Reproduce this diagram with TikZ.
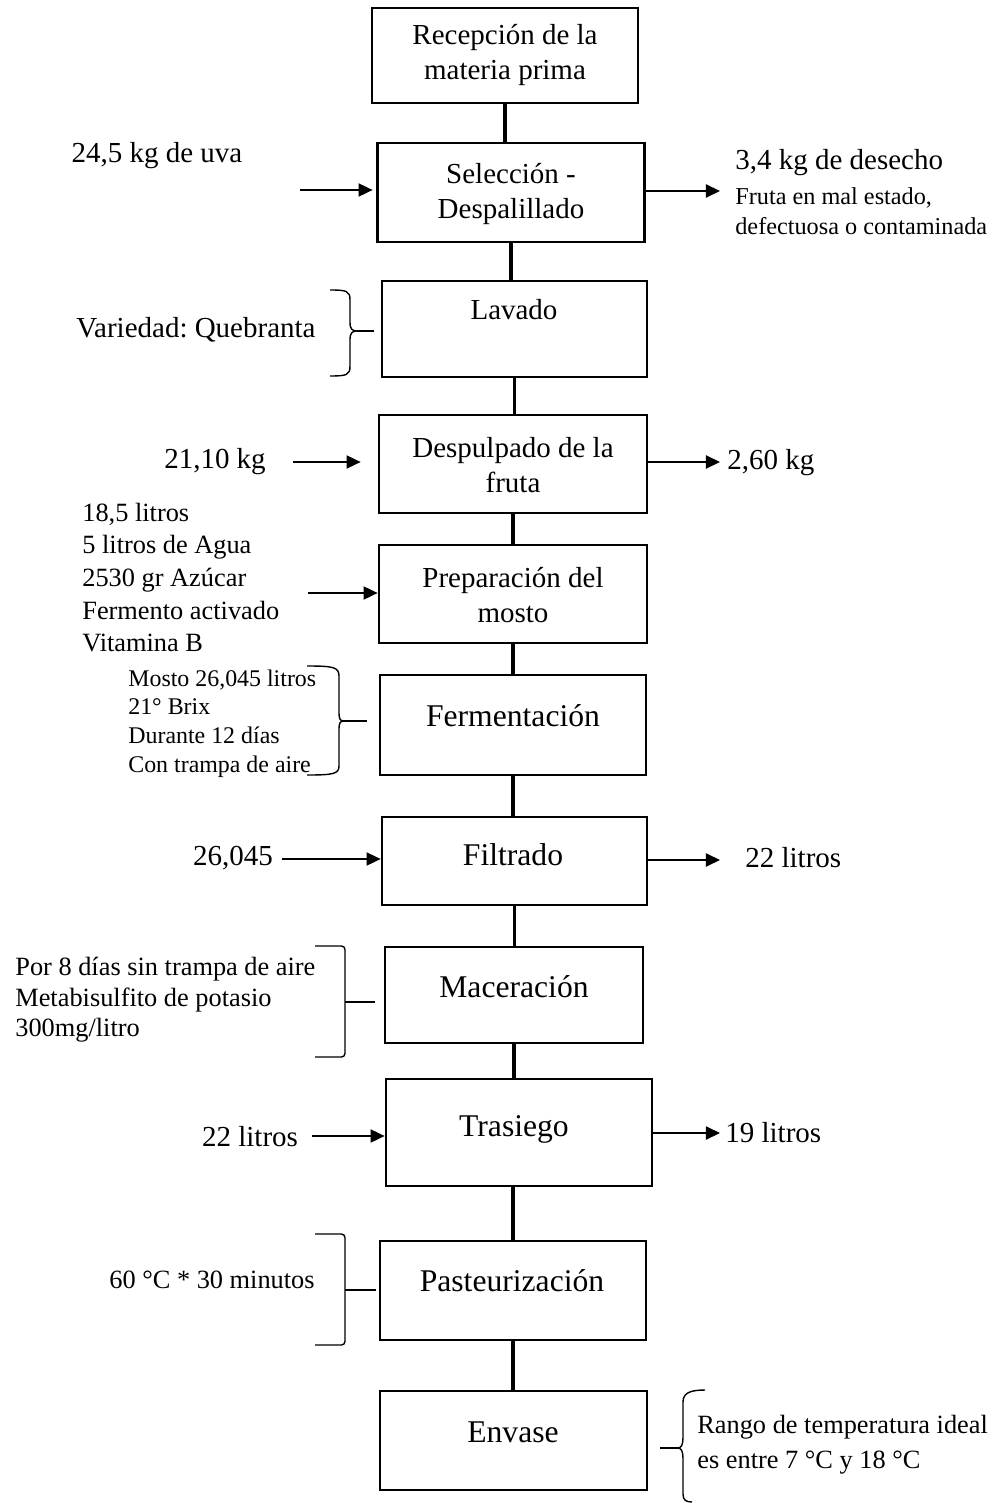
\documentclass[tikz,border=0pt]{standalone}
\usepackage{fontspec}
\setmainfont{Liberation Serif}
\frenchspacing
\usetikzlibrary{arrows.meta,positioning}

\begin{document}
\begin{tikzpicture}[
    x=0.02cm, y=-0.02cm,
    box/.style={draw, line width=1.6pt, inner sep=0pt},
    boxtext/.style={align=center, inner sep=0pt, font=\fontsize{16.5}{20}\selectfont},
    bigtext/.style={inner sep=0pt, font=\fontsize{18}{21}\selectfont},
    bignote/.style={inner sep=0pt, font=\fontsize{16.5}{20}\selectfont},
    note/.style={align=left, inner sep=0pt, font=\fontsize{15}{18.6}\selectfont},
    link/.style={line width=2.2pt},
    feed/.style={-{Triangle[length=8pt, width=7.5pt]}, line width=0.8pt},
    brace/.style={line width=0.8pt}
]
\useasboundingbox (0,0) rectangle (1003,1503);

% process steps
\node[box, minimum width=5.32cm, minimum height=1.90cm] (rec) at (505,55.5) {};
\node[box, minimum width=5.34cm, minimum height=1.98cm] (sel) at (511,192.5) {};
\node[box, minimum width=5.30cm, minimum height=1.92cm] (lav) at (514.5,329) {};
\node[box, minimum width=5.36cm, minimum height=1.96cm] (desp) at (513,464) {};
\node[box, minimum width=5.36cm, minimum height=1.96cm] (prep) at (513,594) {};
\node[box, minimum width=5.32cm, minimum height=2.00cm] (fer) at (513,725) {};
\node[box, minimum width=5.30cm, minimum height=1.76cm] (fil) at (514.5,861) {};
\node[box, minimum width=5.16cm, minimum height=1.92cm] (mac) at (514,995) {};
\node[box, minimum width=5.32cm, minimum height=2.14cm] (tra) at (519,1132.5) {};
\node[box, minimum width=5.32cm, minimum height=1.98cm] (pas) at (513,1290.5) {};
\node[box, minimum width=5.34cm, minimum height=1.98cm] (env) at (513.5,1440.5) {};

\node[boxtext] (recT) at (505,55) {Recepción de la\\materia prima};
\node[boxtext] (selT) at (511,194) {Selección -\\Despalillado};
\node[boxtext] (lavT) at (514,310) {Lavado};
\node[boxtext] (despT) at (513,465) {Despulpado de la\\fruta};
\node[boxtext] (prepT) at (513,595) {Preparación del\\mosto};
\node[bigtext] (ferT) at (513,716) {Fermentación};
\node[bigtext] (filT) at (513,855) {Filtrado};
\node[bigtext] (macT) at (514,987) {Maceración};
\node[bigtext] (traT) at (514,1129) {Trasiego};
\node[bigtext] (pasT) at (512,1281) {Pasteurización};
\node[bigtext] (envT) at (513,1432) {Envase};

% main line
\draw[link] (rec.south) -- (rec.south |- sel.north);
\draw[link] (sel.south) -- (sel.south |- lav.north);
\draw[link] (lav.south) -- (lav.south |- desp.north);
\draw[link] (desp.south) -- (desp.south |- prep.north);
\draw[link] (prep.south) -- (prep.south |- fer.north);
\draw[link] (fer.south) -- (fer.south |- fil.north);
\draw[link] (fil.south) -- (fil.south |- mac.north);
\draw[link] (mac.south) -- (mac.south |- tra.north);
\draw[link] (pas.north |- tra.south) -- (pas.north);
\draw[link] (pas.south) -- (pas.south |- env.north);

% inputs and outputs
\node[bignote] (uva) at (157,156) {24,5 kg de uva};
\node[bignote, anchor=west] (desecho) at (735,163) {3,4 kg de desecho};
\node[note, anchor=west, font=\fontsize{13.8}{17}\selectfont] (desechoNota) at (735,211)
    {Fruta en mal estado,\\defectuosa o contaminada};
\coordinate (selIn) at (300,190);
\coordinate (selOut) at (720,191);
\draw[feed, shorten >=2pt] (selIn) -- (selIn -| sel.west);
\draw[feed] (selOut -| sel.east) -- (selOut);

\node[bignote] (kgIn) at (215,462) {21,10 kg};
\node[bignote, anchor=west] (kgOut) at (727,463) {2,60 kg};
\coordinate (despIn) at (293,462);
\coordinate (despOut) at (720,462);
\draw[feed, shorten >=0.34cm] (despIn) -- (despIn -| desp.west);
\draw[feed] (despOut -| desp.east) -- (despOut);

\node[note, anchor=west] (insumos) at (82,577.5)
    {18,5 litros\\5 litros de Agua\\2530 gr Azúcar\\Fermento activado\\Vitamina B};
\coordinate (prepIn) at (308,593);
\draw[feed] (prepIn) -- (prepIn -| prep.west);

\node[bignote] (filIn) at (233,858) {26,045};
\node[bignote, anchor=west] (filOut) at (745,858) {22 litros};
\coordinate (filA) at (282,859);
\coordinate (filB) at (720,860);
\draw[feed] (filA) -- (filA -| fil.west);
\draw[feed] (filB -| fil.east) -- (filB);

\node[bignote] (traIn) at (250,1137) {22 litros};
\node[bignote, anchor=west] (traOut) at (725,1133) {19 litros};
\coordinate (traA) at (312,1136);
\coordinate (traB) at (720,1133);
\draw[feed] (traA) -- (traA -| tra.west);
\draw[feed] (traB -| tra.east) -- (traB);

% remarks with braces
\node[bignote] (variedad) at (196,330) {Variedad: Quebranta};
\coordinate (lavTip) at (357,331);
\draw[brace] (330,290) .. controls (347,290) and (350,291) .. (350,300) -- (350,322)
    .. controls (350,329) and (352,331) .. (lavTip)
    .. controls (352,331) and (350,333) .. (350,340) -- (350,366)
    .. controls (350,375) and (347,376) .. (330,376);
\draw[brace, shorten >=0.14cm] (lavTip) -- (lavTip -| lav.west);

\node[note, anchor=west, font=\fontsize{13.6}{16.4}\selectfont] (mosto) at (128,723.5)
    {Mosto 26,045 litros\\21° Brix\\Durante 12 días\\Con trampa de aire};
\coordinate (ferTip) at (344,721);
\draw[brace] (307,666) .. controls (333,666) and (339,667) .. (339,676) -- (339,712)
    .. controls (339,719) and (340,721) .. (ferTip)
    .. controls (340,721) and (339,723) .. (339,730) -- (339,766)
    .. controls (339,774) and (333,775) .. (307,775);
\draw[brace, shorten >=0.24cm] (ferTip) -- (ferTip -| fer.west);

\node[note, anchor=west, font=\fontsize{15}{17.3}\selectfont] (reposo) at (15,1000)
    {Por 8 días sin trampa de aire\\Metabisulfito de potasio\\300mg/litro};
\coordinate (macTip) at (345,1002);
\draw[brace, rounded corners=2pt] (315,946) -- (345,946) -- (345,1057) -- (315,1057);
\draw[brace, shorten >=0.18cm] (macTip) -- (macTip -| mac.west);

\node[note] (temp) at (212,1280) {60 °C * 30 minutos};
\coordinate (pasTip) at (345,1290);
\draw[brace, rounded corners=2pt] (315,1234) -- (345,1234) -- (345,1345) -- (315,1345);
\draw[brace, shorten >=0.06cm] (pasTip) -- (pasTip -| pas.west);

\node[note, anchor=west, font=\fontsize{15}{19.8}\selectfont] (rango) at (697,1444.5)
    {Rango de temperatura ideal\\es entre 7 °C y 18 °C};
\coordinate (envTip) at (678,1448);
\coordinate (envEnd) at (660,1448);
\draw[brace] (705,1390) .. controls (690,1390) and (683,1393) .. (683,1402) -- (683,1438)
    .. controls (683,1445) and (681,1448) .. (envTip)
    .. controls (681,1448) and (683,1451) .. (683,1458) -- (683,1494)
    .. controls (683,1500) and (686,1502) .. (692,1502);
\draw[brace] (envTip) -- (envEnd);
\end{tikzpicture}
\end{document}
